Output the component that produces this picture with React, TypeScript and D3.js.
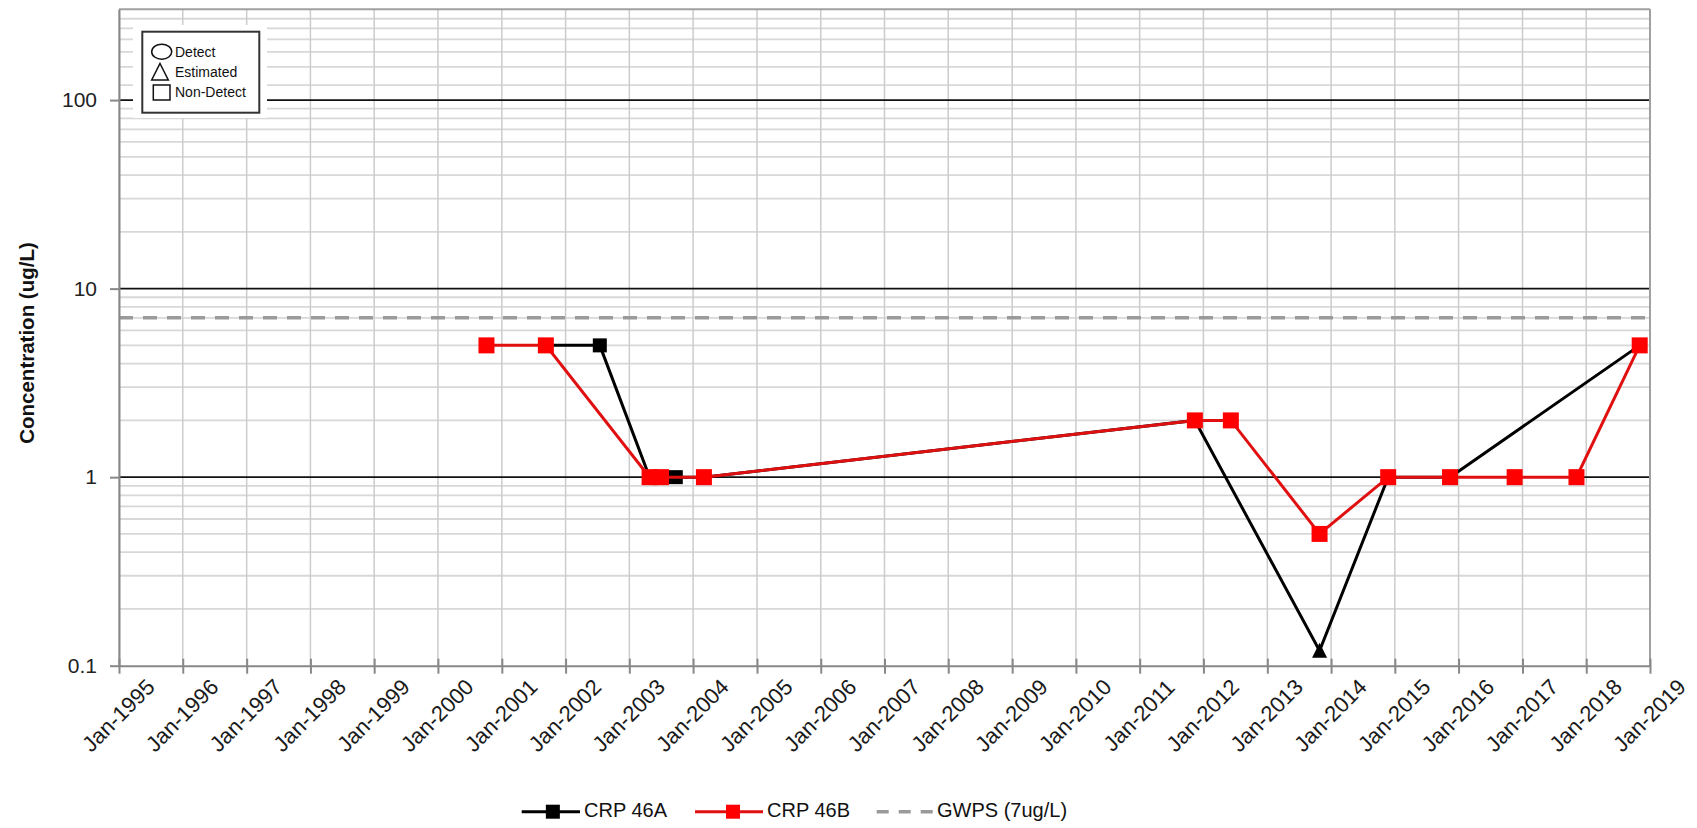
import { FC, useEffect, useRef } from 'react';
import * as d3 from 'd3';

// CRP 46A (black) - ND = non-detect square, E = estimated triangle
const a46Dates = ['2001-09-10', '2002-07-16', '2003-04-27', '2003-09-24', '2004-03-03', '2011-11-13', '2013-10-27', '2014-11-24', '2015-11-13', '2018-11-03'];
const a46Values = [5, 5, 1, 1, 1, 2, 0.12, 1, 1, 5];
const a46Flags = ['ND', 'ND', 'ND', 'ND', 'ND', 'ND', 'E', 'ND', 'ND', 'ND'];

// CRP 46B (red)
const b46Dates = ['2000-10-05', '2001-09-10', '2003-04-27', '2003-07-01', '2004-03-03', '2011-11-13', '2012-06-06', '2013-10-27', '2014-11-24', '2015-11-13', '2016-11-17', '2017-11-06', '2018-11-03'];
const b46Values = [5, 5, 1, 1, 1, 2, 2, 0.5, 1, 1, 1, 1, 5];

const gwps = 7;
const yMajorTicks = [0.1, 1, 10, 100];
const yUpperMinor = [120, 150, 180, 210, 240, 270];
const legendItems = ['CRP 46A', 'CRP 46B', 'GWPS (7ug/L)'];
const symbolLegend = ['Detect', 'Estimated', 'Non-Detect'];

const FONT = 'Arial, "Liberation Sans", sans-serif';

const Chart: FC = () => {
  const ref = useRef<SVGSVGElement | null>(null);

  useEffect(() => {
    const svg = d3.select(ref.current);
    svg.selectAll('*').remove();

    const left = 119, right = 1650, top = 9.3, bottom = 665.7;
    const parse = d3.timeParse('%Y-%m-%d');

    const x = d3.scaleTime()
      .domain([new Date(1995, 0, 1), new Date(2019, 0, 1)])
      .range([left, right]);
    const y = d3.scaleLog().domain([0.1, 303]).range([bottom, top]);

    svg.append('rect').attr('width', 1697).attr('height', 828).attr('fill', 'white');

    const g = svg.append('g');

    // minor horizontal grid
    const minor: number[] = [];
    [0.1, 1, 10].forEach(dec => {
      for (let k = 2; k <= 9; k++) minor.push(dec * k);
    });
    yUpperMinor.forEach(v => minor.push(v));
    g.selectAll('.hminor')
      .data(minor)
      .enter()
      .append('line')
      .attr('x1', left).attr('x2', right)
      .attr('y1', d => y(d)).attr('y2', d => y(d))
      .attr('stroke', '#d8d8d8')
      .attr('stroke-width', 1.8);

    // vertical grid
    const years = d3.timeYear.range(new Date(1995, 0, 1), new Date(2019, 0, 2));
    g.selectAll('.vgrid')
      .data(years)
      .enter()
      .append('line')
      .attr('x1', d => x(d)).attr('x2', d => x(d))
      .attr('y1', top).attr('y2', bottom)
      .attr('stroke', '#cccccc')
      .attr('stroke-width', 1.5);

    // decade lines
    g.selectAll('.hmajor')
      .data([1, 10, 100])
      .enter()
      .append('line')
      .attr('x1', left).attr('x2', right)
      .attr('y1', d => y(d)).attr('y2', d => y(d))
      .attr('stroke', '#111')
      .attr('stroke-width', 1.8);

    // frame top/right
    g.append('line').attr('x1', left).attr('x2', right).attr('y1', top).attr('y2', top)
      .attr('stroke', '#a0a0a0').attr('stroke-width', 2);
    g.append('line').attr('x1', right).attr('x2', right).attr('y1', top).attr('y2', bottom)
      .attr('stroke', '#a0a0a0').attr('stroke-width', 2);

    // GWPS dashed line
    g.append('line')
      .attr('x1', left).attr('x2', right)
      .attr('y1', y(gwps)).attr('y2', y(gwps))
      .attr('stroke', '#9a9a9a')
      .attr('stroke-width', 3.5)
      .attr('stroke-dasharray', '14 10');

    // axes
    const yAxis = g.append('g')
      .attr('transform', `translate(${left},0)`)
      .call(d3.axisLeft(y).tickValues(yMajorTicks).tickFormat(d => String(d)).tickSize(9).tickSizeOuter(0).tickPadding(13));
    yAxis.select('.domain').attr('stroke', '#888').attr('stroke-width', 2);
    yAxis.selectAll('.tick line').attr('stroke', '#888').attr('stroke-width', 2);
    yAxis.selectAll('text')
      .attr('font-size', 21)
      .attr('font-family', FONT)
      .attr('fill', '#222');

    const xAxis = g.append('g')
      .attr('transform', `translate(0,${bottom})`)
      .call(d3.axisBottom(x).tickValues(years).tickFormat(d3.timeFormat('%b-%Y') as any).tickSize(8).tickSizeOuter(0));
    xAxis.select('.domain').attr('stroke', '#888').attr('stroke-width', 2);
    xAxis.selectAll('.tick line').attr('stroke', '#888').attr('stroke-width', 2).attr('y1', -7);
    xAxis.selectAll('text')
      .attr('y', 0)
      .attr('dy', null)
      .attr('text-anchor', 'middle')
      .attr('dominant-baseline', 'middle')
      .attr('transform', 'translate(0,51) rotate(-45)')
      .attr('font-size', 22)
      .attr('font-family', FONT)
      .attr('fill', '#1a1a1a');

    // y title
    svg.append('text')
      .attr('transform', 'translate(29,343) rotate(-90)')
      .attr('text-anchor', 'middle')
      .attr('dominant-baseline', 'middle')
      .attr('font-family', FONT)
      .attr('font-weight', 'bold')
      .attr('font-size', 20.5)
      .attr('fill', '#111')
      .text('Concentration (ug/L)');

    // series
    const aData = a46Dates.map((d, i) => ({ date: parse(d) as Date, value: a46Values[i], flag: a46Flags[i] }));
    const bData = b46Dates.map((d, i) => ({ date: parse(d) as Date, value: b46Values[i] }));

    const line = d3.line<{ date: Date; value: number }>()
      .x(d => x(d.date))
      .y(d => y(d.value));

    g.append('path')
      .datum(aData)
      .attr('d', line)
      .attr('fill', 'none')
      .attr('stroke', '#000')
      .attr('stroke-width', 3);

    g.selectAll('.a-sq')
      .data(aData.filter(d => d.flag === 'ND'))
      .enter()
      .append('rect')
      .attr('x', d => x(d.date) - 7)
      .attr('y', d => y(d.value) - 7)
      .attr('width', 14)
      .attr('height', 14)
      .attr('fill', '#000');

    g.selectAll('.a-tri')
      .data(aData.filter(d => d.flag === 'E'))
      .enter()
      .append('path')
      .attr('d', d => {
        const cx = x(d.date), cy = y(d.value);
        return `M${cx},${cy - 8}L${cx + 7.5},${cy + 7}L${cx - 7.5},${cy + 7}Z`;
      })
      .attr('fill', '#000');

    g.append('path')
      .datum(bData)
      .attr('d', line)
      .attr('fill', 'none')
      .attr('stroke', '#e01010')
      .attr('stroke-width', 3);

    g.selectAll('.b-sq')
      .data(bData)
      .enter()
      .append('rect')
      .attr('x', d => x(d.date) - 8)
      .attr('y', d => y(d.value) - 8)
      .attr('width', 16)
      .attr('height', 16)
      .attr('fill', '#ff0000');

    // symbol legend (top-left)
    const sl = svg.append('g');
    sl.append('rect').attr('x', 133).attr('y', 25).attr('width', 134).attr('height', 93).attr('fill', 'white');
    sl.append('rect').attr('x', 142.3).attr('y', 31.7).attr('width', 117).attr('height', 81)
      .attr('fill', 'white').attr('stroke', '#333').attr('stroke-width', 2);
    sl.append('ellipse').attr('cx', 161.7).attr('cy', 51.7).attr('rx', 10).attr('ry', 7.5)
      .attr('fill', 'none').attr('stroke', '#111').attr('stroke-width', 1.5);
    sl.append('path').attr('d', 'M160,63.5L168.3,80L151.7,80Z')
      .attr('fill', 'none').attr('stroke', '#111').attr('stroke-width', 1.5);
    sl.append('rect').attr('x', 153.3).attr('y', 85).attr('width', 16.7).attr('height', 15)
      .attr('fill', 'none').attr('stroke', '#111').attr('stroke-width', 1.5);
    sl.selectAll('.sltext')
      .data(symbolLegend)
      .enter()
      .append('text')
      .attr('x', 175)
      .attr('y', (d, i) => 57.3 + i * 19.7)
      .attr('font-family', FONT)
      .attr('font-size', 14)
      .attr('fill', '#111')
      .text(d => d);

    // bottom legend
    const ly = 811.7;
    const lg = svg.append('g').attr('font-family', FONT).attr('font-size', 20);
    const lineStarts = [521.7, 695, 876.7];
    const lineEnds = [580, 763, 933];
    const colors = ['#000', '#e01010', '#9a9a9a'];
    legendItems.forEach((name, i) => {
      const l = lg.append('line')
        .attr('x1', lineStarts[i]).attr('x2', lineEnds[i])
        .attr('y1', ly).attr('y2', ly)
        .attr('stroke', colors[i])
        .attr('stroke-width', i === 2 ? 3.5 : 3);
      if (i === 2) l.attr('stroke-dasharray', '12 10');
      else {
        const cx = (lineStarts[i] + lineEnds[i]) / 2 + (i === 1 ? 4 : 2);
        lg.append('rect')
          .attr('x', cx - 7).attr('y', ly - 7)
          .attr('width', 14).attr('height', 14)
          .attr('fill', i === 0 ? '#000' : '#ff0000');
      }
      lg.append('text')
        .attr('x', lineEnds[i] + 4)
        .attr('y', ly)
        .attr('dominant-baseline', 'middle')
        .attr('fill', '#111')
        .text(name);
    });
  }, []);

  return <svg ref={ref} width={1697} height={828} style={{ display: 'block' }} />;
};

export default function App() {
  useEffect(() => {
    document.body.style.margin = '0';
  }, []);
  return <Chart />;
}
